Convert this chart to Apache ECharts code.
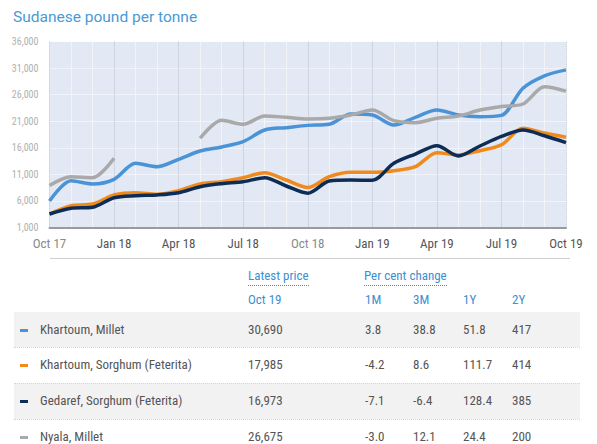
<!DOCTYPE html>
<html>
<head>
<meta charset="utf-8">
<script src="https://cdn.jsdelivr.net/npm/echarts@6/dist/echarts.min.js"></script>
<style>
  html, body { margin: 0; padding: 0; background: #fff; }
  #wrap { position: relative; width: 597px; height: 444px; overflow: hidden;
    font-family: 'Roboto Condensed', 'Liberation Sans Narrow', 'DejaVu Sans Condensed', Roboto, sans-serif; }
  #main { position: absolute; left: 0; top: 0; width: 597px; height: 444px; }
  .t { position: absolute; font-size: 13px; color: #555; white-space: nowrap; line-height: 16px; }
  .hd { color: #3d8fd0; }
  .ul { border-bottom: 1px dotted #3d8fd0; padding-bottom: 2px; }
  .band { position: absolute; left: 14px; width: 566px; background: #f2f2f2; }
  .sep { position: absolute; left: 14px; width: 566px; border-top: 1px dotted #d6d6d6; }
  .mk { position: absolute; left: 20px; width: 8px; height: 3px; }
</style>
</head>
<body>
<div id="wrap">
  <div id="main"></div>
  <div id="table"></div>
</div>
<script>
// monthly prices, Oct 2017 - Oct 2019 (SDG per tonne)
var months = ['Oct 17','Nov 17','Dec 17','Jan 18','Feb 18','Mar 18','Apr 18','May 18','Jun 18',
  'Jul 18','Aug 18','Sep 18','Oct 18','Nov 18','Dec 18','Jan 19','Feb 19','Mar 19','Apr 19',
  'May 19','Jun 19','Jul 19','Aug 19','Sep 19','Oct 19'];

var khartoumMillet = [5940, 9790, 9170, 10050, 13070, 12430, 13820, 15390, 16150, 17150, 19350, 19790,
  20220, 20430, 22370, 22180, 20290, 21740, 23120, 22180, 21860, 22110, 27220, 29570, 30690];
var khartoumSorghum = [3500, 5070, 5390, 7090, 7530, 7220, 7900, 9170, 9600, 10350, 11300, 9920,
  8500, 10540, 11370, 11370, 11680, 12430, 15070, 14640, 15450, 16560, 19670, 18770, 17985];
var gedarefSorghum = [3500, 4580, 4770, 6580, 6960, 7110, 7530, 8660, 9230, 9600, 10350, 8790,
  7430, 9730, 9920, 9860, 13070, 14820, 16390, 14450, 16330, 18130, 19350, 18270, 16973];
var nyalaMillet = [8890, 10540, 10350, 14010, null, null, null, 17790, 21180, 20430, 21990, 21740,
  21440, 21560, 22180, 23120, 21110, 20730, 21560, 21990, 23120, 23800, 24250, 27500, 26675];

var seriesNames = ['Khartoum, Millet', 'Khartoum, Sorghum (Feterita)', 'Gedaref, Sorghum (Feterita)', 'Nyala, Millet'];
var seriesColors = ['#4a93d6', '#f08a1d', '#0d2d56', '#a9a9a9'];

// table values
var latestPrice = ['30,690', '17,985', '16,973', '26,675'];
var change1M = ['3.8', '-4.2', '-7.1', '-3.0'];
var change3M = ['38.8', '8.6', '-6.4', '12.1'];
var change1Y = ['51.8', '111.7', '128.4', '24.4'];
var change2Y = ['417', '414', '385', '200'];

var axisFont = "'Roboto Condensed', 'Liberation Sans Narrow', 'DejaVu Sans Condensed', Roboto, sans-serif";

var chart = echarts.init(document.getElementById('main'), null, { renderer: 'svg' });

var seriesData = [khartoumMillet, khartoumSorghum, gedarefSorghum, nyalaMillet];
var series = seriesData.map(function (d, i) {
  return {
    name: seriesNames[i],
    type: 'line',
    data: d,
    smooth: 0.3,
    showSymbol: false,
    connectNulls: false,
    lineStyle: { width: 3.5, color: seriesColors[i] },
    itemStyle: { color: seriesColors[i] },
    z: [2, 3, 4, 2][i]
  };
});

var option = {
  animation: false,
  title: {
    text: 'Sudanese pound per tonne',
    left: 8, top: 4,
    textStyle: { fontFamily: 'Roboto', fontWeight: 'normal', fontSize: 15.5, color: '#4a9ad4' }
  },
  grid: {
    left: 49.5, right: 31, top: 41.7, bottom: 216.7,
    show: true, backgroundColor: '#e2e8f4', borderWidth: 0
  },
  xAxis: {
    type: 'category',
    data: months,
    boundaryGap: false,
    axisLine: { lineStyle: { color: '#9a9a9a', width: 2 } },
    axisTick: { show: false },
    axisLabel: {
      interval: 2,
      margin: 10,
      fontFamily: axisFont,
      fontSize: 13,
      color: '#555',
      formatter: function (v) {
        return v.indexOf('Oct') === 0 && v !== 'Oct 19' ? '{l|' + v + '}' : v;
      },
      rich: { l: { color: '#8a8a8a', fontFamily: axisFont, fontSize: 13 } }
    },
    splitLine: {
      show: true,
      interval: 0,
      lineStyle: { color: ['#b9bfcc', '#ffffff', '#ffffff'], type: 'dotted', width: 1 }
    }
  },
  yAxis: {
    type: 'value',
    min: 1000, max: 36000, interval: 5000,
    axisLine: { show: false },
    axisTick: { show: false },
    axisLabel: {
      margin: 11,
      fontFamily: axisFont,
      fontSize: 10,
      color: '#b0b0b0',
      padding: [0, 0, 8, 0],
      formatter: function (v) { return v.toLocaleString('en-US'); }
    },
    splitLine: { lineStyle: { color: '#ffffff', type: 'dotted', width: 1 } }
  },
  series: series
};
chart.setOption(option);

// table under the chart
var tbl = document.getElementById('table');
var html = '';
html += '<div class="sep" style="left:50px;width:520px;top:258px;border-top:1.5px solid #cfcfcf"></div>';
html += '<div class="t hd" style="left:248px;top:268px"><span class="ul">Latest price</span></div>';
html += '<div class="t hd" style="left:364px;top:268px"><span class="ul">Per cent change</span></div>';
html += '<div class="t hd" style="left:248px;top:292px">Oct 19</div>';
var hdrs = ['1M', '3M', '1Y', '2Y'];
var colX = [365, 413, 463, 512];
hdrs.forEach(function (h, i) {
  html += '<div class="t hd" style="left:' + colX[i] + 'px;top:292px">' + h + '</div>';
});
var rowTop = [312, 347, 383, 419];
var rowH = [35, 36, 36, 36];
seriesNames.forEach(function (n, r) {
  var top = rowTop[r];
  if (r % 2 === 0) html += '<div class="band" style="top:' + top + 'px;height:' + rowH[r] + 'px"></div>';
  if (r > 0) html += '<div class="sep" style="top:' + top + 'px"></div>';
  var cy = top + rowH[r] / 2 - 8;
  html += '<div class="mk" style="top:' + (cy + 7) + 'px;background:' + seriesColors[r] + '"></div>';
  html += '<div class="t" style="left:40px;top:' + cy + 'px">' + n + '</div>';
  html += '<div class="t" style="left:248px;top:' + cy + 'px">' + latestPrice[r] + '</div>';
  var vals = [change1M[r], change3M[r], change1Y[r], change2Y[r]];
  vals.forEach(function (v, i) {
    html += '<div class="t" style="left:' + colX[i] + 'px;top:' + cy + 'px">' + v + '</div>';
  });
});
tbl.innerHTML = html;
</script>
</body>
</html>
